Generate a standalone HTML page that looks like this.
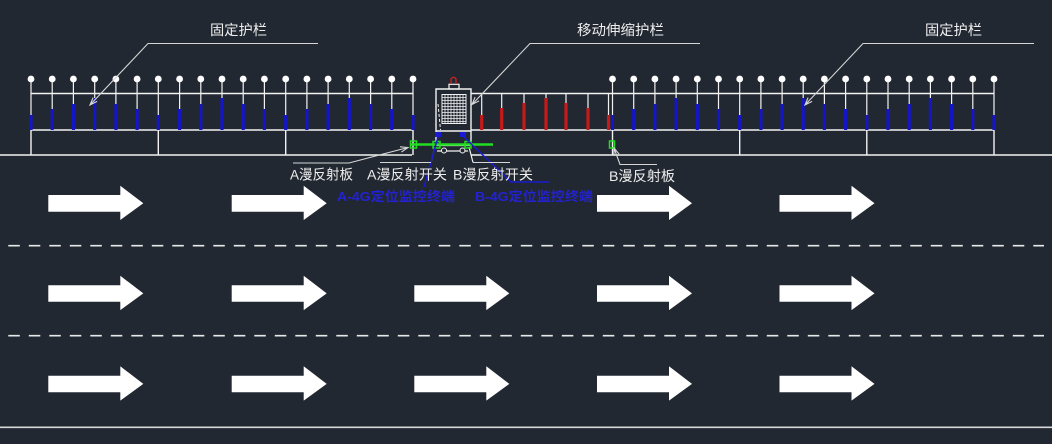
<!DOCTYPE html>
<html><head><meta charset="utf-8"><style>
html,body{margin:0;padding:0;background:#222831;width:1052px;height:444px;overflow:hidden}
svg{display:block}
text{font-family:"Liberation Sans","Noto Sans CJK SC",sans-serif}
</style></head><body>
<svg width="1052" height="444" viewBox="0 0 1052 444" xmlns="http://www.w3.org/2000/svg">
<rect width="1052" height="444" fill="#222831"/>

<!-- ground & lane lines -->
<path d="M0 155H412M471 155H1052" stroke="#f2f2f2" stroke-width="1.5" fill="none"/>
<path d="M8.3 245.7H1044M8.3 335.7H1044" stroke="#e8e8e8" stroke-width="1.6" stroke-dasharray="11.5 9" fill="none"/>
<path d="M0 427.3H1052" stroke="#d8d8d8" stroke-width="1.6" fill="none"/>

<!-- fence rails -->
<path d="M31 93.5H413M31 130H413M612.5 93.5H994M612.5 130H994M471 93.5H612.5M471 130H612.5" stroke="#f2f2f2" stroke-width="1.4" fill="none"/>
<!-- support posts -->
<path d="M31 130V155M158.3 130V155M285.7 130V155M413 130V155M612.5 130V155M739.7 130V155M866.8 130V155M994 130V155" stroke="#f2f2f2" stroke-width="1.4" fill="none"/>

<!-- post white lines -->
<path stroke="#f2f2f2" stroke-width="1.2" fill="none" d="
M31 79V115M52.2 79V109M73.4 79V104M94.7 79V98M115.9 79V104M137.1 79V109M158.3 79V115M179.6 79V109M200.8 79V104M222 79V98M243.2 79V104M264.4 79V109M285.7 79V115M306.9 79V109M328.1 79V104M349.3 79V98M370.6 79V104M391.8 79V109M413 79V115
M612.5 79V115M633.7 79V109M654.9 79V104M676.1 79V98M697.3 79V104M718.5 79V109M739.7 79V115M760.9 79V109M782.1 79V104M803.2 79V98M824.4 79V104M845.6 79V109M866.8 79V115M888 79V109M909.2 79V104M930.4 79V98M951.6 79V104M972.8 79V109M994 79V115
M481.7 93.5V115M501.7 93.5V108M524 93.5V103M546 93.5V98M566 93.5V103M588 93.5V108M608.5 93.5V115"/>

<!-- blue bars -->
<path stroke="#1414c8" stroke-width="3.2" fill="none" d="
M31 115V130M52.2 109V130M73.4 104V130M94.7 98V130M115.9 104V130M137.1 109V130M158.3 115V130M179.6 109V130M200.8 104V130M222 98V130M243.2 104V130M264.4 109V130M285.7 115V130M306.9 109V130M328.1 104V130M349.3 98V130M370.6 104V130M391.8 109V130M413 115V130
M612.5 115V130M633.7 109V130M654.9 104V130M676.1 98V130M697.3 104V130M718.5 109V130M739.7 115V130M760.9 109V130M782.1 104V130M803.2 98V130M824.4 104V130M845.6 109V130M866.8 115V130M888 109V130M909.2 104V130M930.4 98V130M951.6 104V130M972.8 109V130M994 115V130"/>
<!-- red bars -->
<path stroke="#c41a1a" stroke-width="3.2" fill="none" d="M481.7 115V130M501.7 108V130M524 103V130M546 98V130M566 103V130M588 108V130M608.5 115V130"/>

<!-- balls -->
<g fill="#ffffff">
<circle cx="31" cy="79" r="3.4"/><circle cx="52.2" cy="79" r="3.4"/><circle cx="73.4" cy="79" r="3.4"/><circle cx="94.7" cy="79" r="3.4"/><circle cx="115.9" cy="79" r="3.4"/><circle cx="137.1" cy="79" r="3.4"/><circle cx="158.3" cy="79" r="3.4"/><circle cx="179.6" cy="79" r="3.4"/><circle cx="200.8" cy="79" r="3.4"/><circle cx="222" cy="79" r="3.4"/><circle cx="243.2" cy="79" r="3.4"/><circle cx="264.4" cy="79" r="3.4"/><circle cx="285.7" cy="79" r="3.4"/><circle cx="306.9" cy="79" r="3.4"/><circle cx="328.1" cy="79" r="3.4"/><circle cx="349.3" cy="79" r="3.4"/><circle cx="370.6" cy="79" r="3.4"/><circle cx="391.8" cy="79" r="3.4"/><circle cx="413" cy="79" r="3.4"/>
<circle cx="612.5" cy="79" r="3.4"/><circle cx="633.7" cy="79" r="3.4"/><circle cx="654.9" cy="79" r="3.4"/><circle cx="676.1" cy="79" r="3.4"/><circle cx="697.3" cy="79" r="3.4"/><circle cx="718.5" cy="79" r="3.4"/><circle cx="739.7" cy="79" r="3.4"/><circle cx="760.9" cy="79" r="3.4"/><circle cx="782.1" cy="79" r="3.4"/><circle cx="803.2" cy="79" r="3.4"/><circle cx="824.4" cy="79" r="3.4"/><circle cx="845.6" cy="79" r="3.4"/><circle cx="866.8" cy="79" r="3.4"/><circle cx="888" cy="79" r="3.4"/><circle cx="909.2" cy="79" r="3.4"/><circle cx="930.4" cy="79" r="3.4"/><circle cx="951.6" cy="79" r="3.4"/><circle cx="972.8" cy="79" r="3.4"/><circle cx="994" cy="79" r="3.4"/>
</g>

<!-- device -->
<path d="M436 142V89H471V142M436 131H471" stroke="#f2f2f2" stroke-width="1.4" fill="none"/>
<rect x="449" y="84.3" width="10" height="4.7" stroke="#f2f2f2" stroke-width="1.2" fill="none"/>
<path d="M451 84V79Q453.5 75.5 456 79V84" stroke="#d02020" stroke-width="1.3" fill="none"/>
<rect x="442" y="94.5" width="24" height="29" stroke="#f2f2f2" stroke-width="1" fill="none"/>
<path stroke="#f2f2f2" stroke-width="0.8" fill="none" d="M445 94.5V123.5M448 94.5V123.5M451 94.5V123.5M454 94.5V123.5M457 94.5V123.5M460 94.5V123.5M463 94.5V123.5M442 97.5H466M442 100.5H466M442 103.5H466M442 106.5H466M442 109.5H466M442 112.5H466M442 115.5H466M442 118.5H466M442 121.5H466"/>
<path d="M438 104L440.5 130" stroke="#f2f2f2" stroke-width="1" stroke-dasharray="3 2" fill="none"/>

<!-- trolley -->
<path d="M436 145.5H470M437 151H468M435 147L431 162.5M469 147L473 162.5" stroke="#f2f2f2" stroke-width="1.2" fill="none"/>
<circle cx="444" cy="150.5" r="2.5" stroke="#f2f2f2" stroke-width="1" fill="#222831"/>
<circle cx="462.5" cy="150.5" r="2.5" stroke="#f2f2f2" stroke-width="1" fill="#222831"/>

<!-- green -->
<path d="M411 144.5H493" stroke="#22dd22" stroke-width="2.6" fill="none"/>
<g stroke="#22dd22" stroke-width="1.5" fill="none">
<rect x="410.5" y="141" width="6" height="7"/>
<rect x="433" y="141.5" width="7" height="6.5"/>
<rect x="465" y="141.5" width="6" height="6.5"/>
<rect x="609.5" y="141" width="5" height="7"/>
</g>

<!-- blue terminals -->
<rect x="435" y="132" width="6" height="5" fill="#1a1ad8"/>
<rect x="460" y="132" width="6" height="5" fill="#1a1ad8"/>
<path d="M438 137L424 187M464 137L511 182H550" stroke="#1a1ad0" stroke-width="1.5" fill="none"/>

<!-- leaders -->
<g stroke="#d6d6d6" stroke-width="1.1" fill="none">
<path d="M318 43.5H148L90 105M97.1 101.4L90 105L93.1 97.6"/>
<path d="M1034 43.5H863L805 105M812.1 101.4L805 105L808.1 97.6"/>
<path d="M700 43.5H530L472 104.5M479.1 100.9L472 104.5L475.1 97.1"/>
<path d="M293 163H349L408 147.5M400 146.8L408 147.5L401.4 152.1"/>
<path d="M380 162.5H431M473 162.5H510"/>
<path d="M657 164.5H620L614 148M614 156L614 148L619.1 154.1"/>
</g>

<!-- arrows -->
<g fill="#ffffff">
<path d="M48.3 195H120.3V185.7L143.3 203.3L120.3 220V211.7H48.3Z"/>
<path d="M231.7 195H303.7V185.7L326.7 203.3L303.7 220V211.7H231.7Z"/>
<path d="M597 195H669V185.7L692 203.3L669 220V211.7H597Z"/>
<path d="M779.5 195H851.5V185.7L874.5 203.3L851.5 220V211.7H779.5Z"/>

<path d="M48.3 285.2H120.3V275.8L143.3 293.4L120.3 310.1V301.8H48.3Z"/>
<path d="M231.7 285.2H303.7V275.8L326.7 293.4L303.7 310.1V301.8H231.7Z"/>
<path d="M414.3 285.2H486.3V275.8L509.3 293.4L486.3 310.1V301.8H414.3Z"/>
<path d="M597 285.2H669V275.8L692 293.4L669 310.1V301.8H597Z"/>
<path d="M779.5 285.2H851.5V275.8L874.5 293.4L851.5 310.1V301.8H779.5Z"/>

<path d="M48.3 375.7H120.3V366.3L143.3 383.9L120.3 400.6V392.3H48.3Z"/>
<path d="M231.7 375.7H303.7V366.3L326.7 383.9L303.7 400.6V392.3H231.7Z"/>
<path d="M414.3 375.7H486.3V366.3L509.3 383.9L486.3 400.6V392.3H414.3Z"/>
<path d="M597 375.7H669V366.3L692 383.9L669 400.6V392.3H597Z"/>
<path d="M779.5 375.7H851.5V366.3L874.5 383.9L851.5 400.6V392.3H779.5Z"/>
</g>

<!-- labels -->
<g fill="#eeeeee" font-size="14">
<text x="210" y="35" textLength="57" lengthAdjust="spacingAndGlyphs">固定护栏</text>
<text x="577" y="35" textLength="87" lengthAdjust="spacingAndGlyphs">移动伸缩护栏</text>
<text x="925" y="35" textLength="57" lengthAdjust="spacingAndGlyphs">固定护栏</text>
<text x="290" y="179.5" textLength="63" lengthAdjust="spacingAndGlyphs">A漫反射板</text>
<text x="367" y="179.5" textLength="80" lengthAdjust="spacingAndGlyphs">A漫反射开关</text>
<text x="453" y="179.5" textLength="80" lengthAdjust="spacingAndGlyphs">B漫反射开关</text>
<text x="609" y="181" textLength="66" lengthAdjust="spacingAndGlyphs">B漫反射板</text>
</g>
<g fill="#2222d4" font-size="13" font-weight="bold">
<text x="337" y="201" textLength="118" lengthAdjust="spacingAndGlyphs">A-4G定位监控终端</text>
<text x="475" y="201" textLength="118" lengthAdjust="spacingAndGlyphs">B-4G定位监控终端</text>
</g>
</svg>
</body></html>
